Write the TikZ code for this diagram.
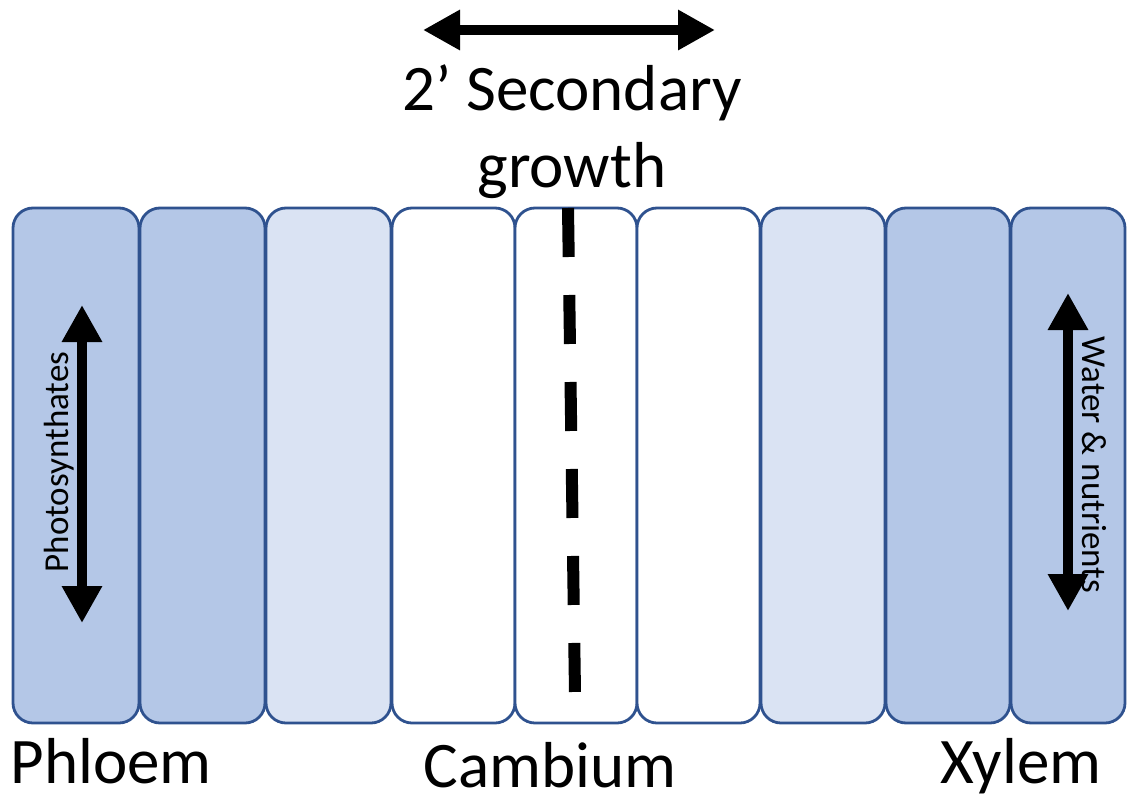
\documentclass[tikz,border=0pt]{standalone}
\usepackage{fontspec}
\setmainfont{Carlito}
\usetikzlibrary{positioning, arrows.meta}
\usepackage{xcolor}

\definecolor{celldark}{HTML}{B4C7E7}
\definecolor{celllight}{HTML}{DAE3F3}
\definecolor{cellline}{HTML}{2F528F}

\tikzset{
    cell/.style={draw=cellline, line width=2.8pt, rounded corners=20pt},
    flow/.style={line width=10pt, {Triangle[length=37pt,width=38pt]}-{Triangle[length=37pt,width=38pt]}},
    biglabel/.style={font=\fontsize{65}{78}\selectfont, anchor=base, inner sep=0pt},
    smalllabel/.style={font=\fontsize{35}{42}\selectfont, anchor=base, inner sep=0pt}
}

\begin{document}
\begin{tikzpicture}[x=1pt, y=-1pt]
    \useasboundingbox (0,0) rectangle (1127,803);

    % Cell row
    \foreach \l/\r/\c in {13/139/celldark, 140/265/celldark, 266/391/celllight,
                          392/515/white, 515/637/white, 637/760/white,
                          761/885/celllight, 886/1010/celldark, 1011/1125/celldark} {
        \draw[cell, fill=\c] (\l,208) rectangle (\r,723);
    }

    % Cambium line
    \coordinate (camtop) at (568,208);
    \coordinate (cambot) at (575,693);
    \draw[line width=12pt, dash pattern=on 49pt off 38pt] (camtop) -- (cambot);

    % Secondary growth
    \coordinate (growl) at (423,30);
    \coordinate (growr) at (715,30);
    \draw[flow] (growl) -- (growr);
    \node[biglabel] (secondary) at (572,110) {2’ Secondary};
    \node[biglabel] (growth) at (572,187) {growth};

    % Phloem transport
    \coordinate (phtop) at (82,305);
    \coordinate (phbot) at (82,623);
    \draw[flow] (phtop) -- (phbot);
    \node[smalllabel, rotate=90] (photo) at (68,462) {Photosynthates};

    % Xylem transport
    \coordinate (xytop) at (1068,293);
    \coordinate (xybot) at (1068,611);
    \draw[flow] (xytop) -- (xybot);
    \node[smalllabel, rotate=-90] (water) at (1082,465) {Water \& nutrients};

    % Tissue names
    \node[biglabel] (phloem) at (111,783) {Phloem};
    \node[biglabel] (cambium) at (550,787) {Cambium};
    \node[biglabel] (xylem) at (1021,783) {Xylem};
\end{tikzpicture}
\end{document}
